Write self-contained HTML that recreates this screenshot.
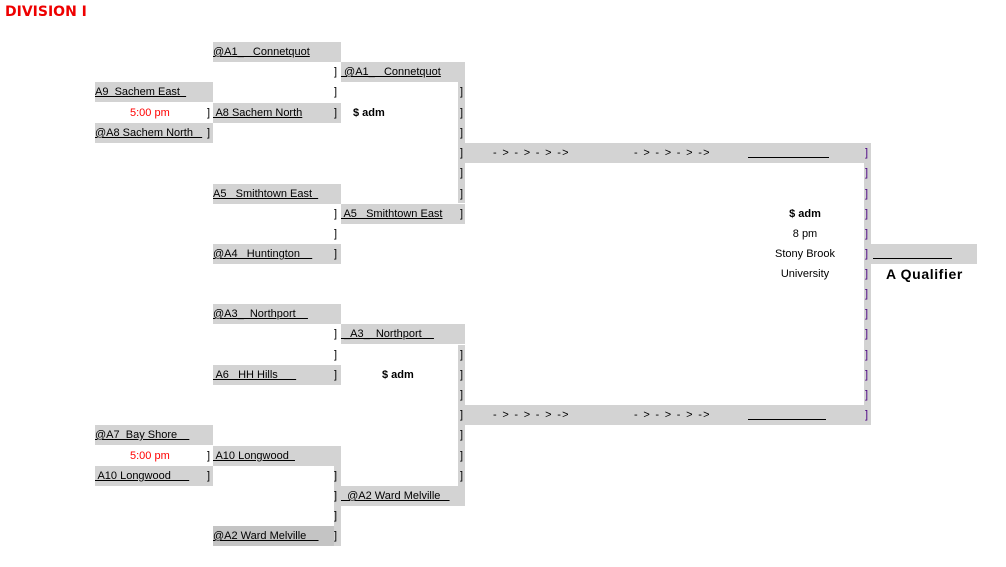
<!DOCTYPE html>
<html><head><meta charset="utf-8"><style>
body{margin:0;width:1006px;height:567px;background:#fff;position:relative;overflow:hidden;font-family:"Liberation Sans",sans-serif;font-size:11px;color:#000}
div{position:absolute;white-space:pre;line-height:20px;height:20px}
.g{background:#d3d3d3}
.u{text-decoration:underline}
.b{font-weight:bold}
.r{color:#f00}
.p{color:#4b0082}
.a{letter-spacing:1.3px}
</style></head><body>
<div style="left:5px;top:3px;color:#e00;font-weight:bold;font-size:14px;line-height:18px;font-family:'DejaVu Sans',sans-serif">DIVISION I</div>

<!-- col1 -->
<div class="g" style="left:95px;top:82px;width:118px"><span class="u">A9  Sachem East  </span></div>
<div class="r" style="left:130px;top:103px">5:00 pm</div>
<div style="left:207px;top:103px">]</div>
<div class="g" style="left:95px;top:123px;width:118px"><span class="u">@A8 Sachem North   </span></div>
<div style="left:207px;top:123px">]</div>
<div class="g" style="left:95px;top:425px;width:118px"><span class="u">@A7  Bay Shore    </span></div>
<div class="r" style="left:130px;top:446px">5:00 pm</div>
<div style="left:207px;top:446px">]</div>
<div class="g" style="left:95px;top:466px;width:118px"><span class="u"> A10 Longwood      </span></div>
<div style="left:207px;top:466px">]</div>

<!-- col2 -->
<div class="g" style="left:213px;top:42px;width:128px"><span class="u">@A1_   Connetquot</span></div>
<div style="left:334px;top:62px">]</div>
<div style="left:334px;top:82px">]</div>
<div class="g" style="left:213px;top:103px;width:128px"><span class="u"> A8 Sachem North</span></div>
<div style="left:334px;top:103px">]</div>
<div class="g" style="left:213px;top:184px;width:128px"><span class="u">A5   Smithtown East  </span></div>
<div style="left:334px;top:204px">]</div>
<div style="left:334px;top:224px">]</div>
<div class="g" style="left:213px;top:244px;width:128px"><span class="u">@A4   Huntington    </span></div>
<div style="left:334px;top:244px">]</div>
<div class="g" style="left:213px;top:304px;width:128px"><span class="u">@A3_  Northport    </span></div>
<div style="left:334px;top:324px">]</div>
<div style="left:334px;top:345px">]</div>
<div class="g" style="left:213px;top:365px;width:128px"><span class="u"> A6   HH Hills      </span></div>
<div style="left:334px;top:365px">]</div>
<div class="g" style="left:213px;top:446px;width:128px"><span class="u"> A10 Longwood  </span></div>
<div class="g" style="left:334px;top:466px;width:7px;height:60px"></div>
<div style="left:334px;top:466px">]</div>
<div style="left:334px;top:486px">]</div>
<div style="left:334px;top:506px">]</div>
<div style="left:213px;top:526px;width:121px;background:#c4c4c4"><span class="u">@A2 Ward Melville    </span></div>
<div class="g" style="left:334px;top:526px;width:7px"></div>
<div style="left:334px;top:526px">]</div>

<!-- col3 -->
<div class="g" style="left:341px;top:62px;width:124px"><span class="u"> @A1_   Connetquot</span></div>
<div class="g" style="left:458px;top:82px;width:7px;height:121px"></div>
<div style="left:460px;top:82px">]</div>
<div style="left:460px;top:103px">]</div>
<div style="left:460px;top:123px">]</div>
<div style="left:460px;top:143px">]</div>
<div style="left:460px;top:163px">]</div>
<div style="left:460px;top:184px">]</div>
<div class="b" style="left:353px;top:103px">$ adm</div>
<div class="g" style="left:341px;top:204px;width:124px"><span class="u"> A5   Smithtown East</span></div>
<div style="left:460px;top:204px">]</div>
<div class="g" style="left:341px;top:324px;width:124px"><span class="u"> _A3_  Northport    </span></div>
<div class="g" style="left:458px;top:345px;width:7px;height:141px"></div>
<div style="left:460px;top:345px">]</div>
<div style="left:460px;top:365px">]</div>
<div style="left:460px;top:385px">]</div>
<div style="left:460px;top:405px">]</div>
<div style="left:460px;top:425px">]</div>
<div style="left:460px;top:446px">]</div>
<div style="left:460px;top:466px">]</div>
<div class="b" style="left:382px;top:365px">$ adm</div>
<div class="g" style="left:341px;top:486px;width:124px"><span class="u">  @A2 Ward Melville   </span></div>

<!-- col4 -->
<div class="g" style="left:465px;top:143px;width:406px"></div>
<div class="a" style="left:493px;top:143px">- &gt; - &gt; - &gt; -&gt;</div>
<div class="a" style="left:634px;top:143px">- &gt; - &gt; - &gt; -&gt;</div>
<div style="left:748px;top:142px;width:81px;border-bottom:1px solid #000;height:15px"></div>
<div class="g" style="left:465px;top:405px;width:406px"></div>
<div class="a" style="left:493px;top:405px">- &gt; - &gt; - &gt; -&gt;</div>
<div class="a" style="left:634px;top:405px">- &gt; - &gt; - &gt; -&gt;</div>
<div style="left:748px;top:404px;width:78px;border-bottom:1px solid #000;height:15px"></div>
<div class="g" style="left:864px;top:163px;width:7px;height:242px"></div>
<div class="p" style="left:865px;top:143px">]</div>
<div class="p" style="left:865px;top:163px">]</div>
<div class="p" style="left:865px;top:184px">]</div>
<div class="p" style="left:865px;top:204px">]</div>
<div class="p" style="left:865px;top:224px">]</div>
<div class="p" style="left:865px;top:244px">]</div>
<div class="p" style="left:865px;top:264px">]</div>
<div class="p" style="left:865px;top:284px">]</div>
<div class="p" style="left:865px;top:304px">]</div>
<div class="p" style="left:865px;top:324px">]</div>
<div class="p" style="left:865px;top:345px">]</div>
<div class="p" style="left:865px;top:365px">]</div>
<div class="p" style="left:865px;top:385px">]</div>
<div class="p" style="left:865px;top:405px">]</div>
<div class="b" style="left:765px;top:204px;width:80px;text-align:center">$ adm</div>
<div style="left:765px;top:224px;width:80px;text-align:center">8 pm</div>
<div style="left:765px;top:244px;width:80px;text-align:center">Stony Brook</div>
<div style="left:765px;top:264px;width:80px;text-align:center">University</div>

<!-- col5 -->
<div class="g" style="left:871px;top:244px;width:106px"></div>
<div style="left:873px;top:243px;width:79px;border-bottom:1px solid #000;height:15px"></div>
<div class="b" style="left:886px;top:264px;font-size:14px;letter-spacing:0.6px">A Qualifier</div>
</body></html>
